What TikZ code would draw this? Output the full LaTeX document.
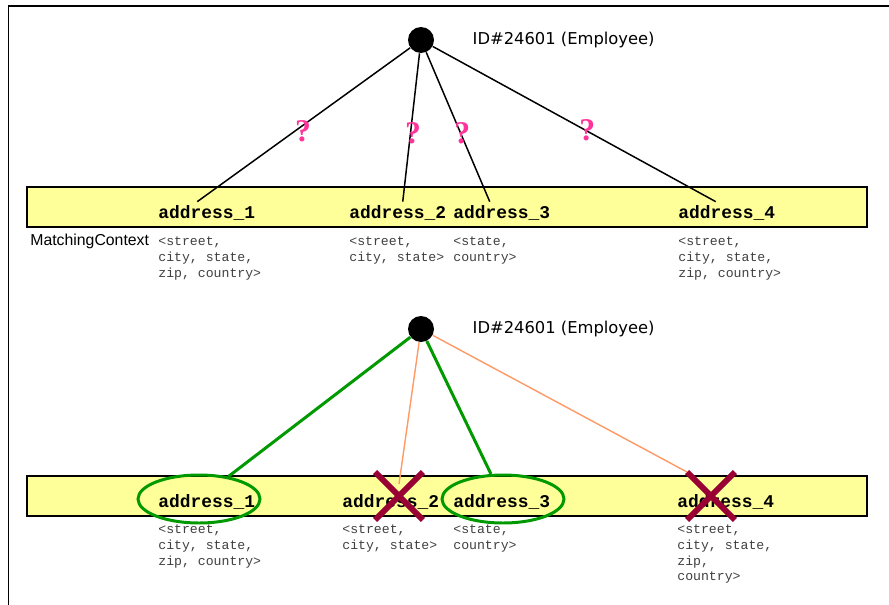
\documentclass[tikz,border=0pt]{standalone}
\usepackage{fontspec}
\setmainfont{Liberation Sans}
\setmonofont{Liberation Mono}
\newfontfamily\idfont{DejaVu Sans}
\newfontfamily\qfont{Liberation Serif}
\usetikzlibrary{arrows.meta, positioning, calc, shapes.geometric, shapes.misc}
\definecolor{bandyellow}{HTML}{FFFF99}
\definecolor{okgreen}{HTML}{009900}
\definecolor{tryorange}{HTML}{FF9966}
\definecolor{nored}{HTML}{990033}
\definecolor{qpink}{HTML}{FF3399}
\definecolor{ctxgray}{HTML}{404040}
\tikzset{
  frame/.style={line width=1.1pt},
  entity/.style={circle, fill=black, minimum size=0.52cm, inner sep=0pt},
  idlabel/.style={font=\idfont\fontsize{9.3}{11}\selectfont, inner sep=0pt, anchor=west},
  band/.style={draw=black, fill=bandyellow, line width=0.9pt, minimum width=16.8cm, minimum height=0.8cm, inner sep=0pt},
  addr/.style={font=\ttfamily\bfseries\fontsize{10.2}{12}\selectfont, anchor=base west, inner sep=0pt},
  ctx/.style={font=\ttfamily\fontsize{7.5}{9.07}\selectfont, text=ctxgray, align=left, anchor=north west, inner sep=0pt},
  candidate/.style={line width=0.85pt},
  qmark/.style={font=\qfont\bfseries\fontsize{18}{18}\selectfont, text=qpink, inner sep=0pt},
  okline/.style={draw=okgreen, line width=1.7pt},
  badline/.style={draw=tryorange, line width=0.8pt},
  okring/.style={ellipse, draw=okgreen, line width=1.7pt, minimum width=2.44cm, minimum height=0.96cm, inner sep=0pt},
  nomatch/.style={cross out, draw=nored, line width=3.4pt, minimum width=0.84cm, minimum height=0.84cm, inner sep=0pt}
}

\begin{document}
\begin{tikzpicture}[x=0.02cm, y=-0.02cm]
\useasboundingbox (0,0) rectangle (889,605);
\draw[frame] (8.5,605) -- (8.5,6) -- (889,6);

% --- upper part: open candidates ---
\node (emp1) [entity] at (421,40) {};
\node (id1) [idlabel, right=0.76cm of emp1] {ID\#24601 (Employee)};
\node (band1) [band] at (447,207) {};
\node (a11) [addr] at (158,218) {address\_1};
\node (a12) [addr] at (349,218) {address\_2};
\node (a13) [addr] at (453,218) {address\_3};
\node (a14) [addr] at (678,218) {address\_4};
\node (mc) [font=\fontsize{9}{11}\selectfont, anchor=base west, inner sep=0pt] at (30,245) {MatchingContext};
\node (c11) [ctx] at (158,236) {<street,\\city, state,\\zip, country>};
\node (c12) [ctx] at (349,236) {<street,\\city, state>};
\node (c13) [ctx] at (453,236) {<state,\\country>};
\node (c14) [ctx] at (678,236) {<street,\\city, state,\\zip, country>};

\draw[candidate] (emp1) -- node[qmark, pos=.54, xshift=4.5pt] {?} ([shift={(-9.5,-3)}]a11.north);
\draw[candidate] (emp1) -- node[qmark, pos=.54, xshift=1.5pt] {?} ([shift={(5,-3)}]a12.north);
\draw[candidate] (emp1) -- node[qmark, pos=.54, xshift=1pt] {?} ([shift={(-12,-3)}]a13.north);
\draw[candidate] (emp1) -- node[qmark, pos=.54, xshift=1pt] {?} ([shift={(-11,-3)}]a14.north);

% --- lower part: result of matching ---
\node (emp2) [entity] at (421,329) {};
\node (id2) [idlabel, right=0.76cm of emp2] {ID\#24601 (Employee)};
\node (band2) [band] at (447,496) {};
\node (a21) [addr] at (158,507) {address\_1};
\node (a22) [addr] at (342,507) {address\_2};
\node (a23) [addr] at (453,507) {address\_3};
\node (a24) [addr] at (677,507) {address\_4};
\node (c21) [ctx] at (158,524) {<street,\\city, state,\\zip, country>};
\node (c22) [ctx] at (342,524) {<street,\\city, state>};
\node (c23) [ctx] at (453,524) {<state,\\country>};
\node (c24) [ctx] at (677,524) {<street,\\city, state,\\zip,\\country>};

\node (ok1) [okring] at (199,499) {};
\node (ok2) [okring] at (503,499) {};
\node (no2) [nomatch] at (399,496) {};
\node (no4) [nomatch] at (711,496) {};

\draw[okline] (emp2) -- (ok1);
\draw[okline] (emp2) -- (ok2);
\draw[badline] (emp2) -- ([yshift=-6.8pt]no2.north);
\draw[badline] (emp2) -- (no4.north west);

\end{tikzpicture}
\end{document}
